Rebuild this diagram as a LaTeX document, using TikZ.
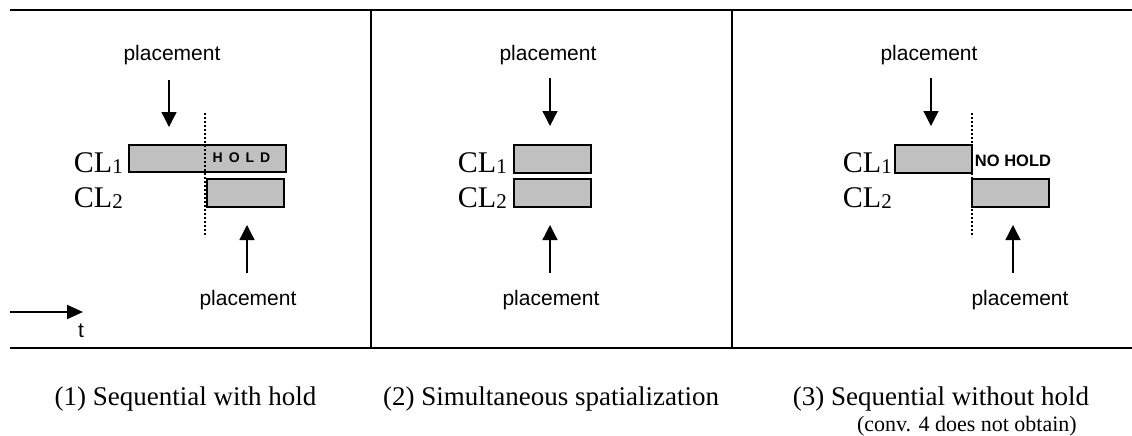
\documentclass[tikz,border=0pt]{standalone}
\usepackage{fontspec}
\setmainfont{Liberation Serif}
\newfontfamily\arialf{Liberation Sans}
\usetikzlibrary{arrows.meta}
\definecolor{barfill}{RGB}{192,192,192}
\newcommand{\clsub}[1]{CL\raisebox{-1.5pt}{\fontsize{21}{21}\selectfont #1}}
\begin{document}
\begin{tikzpicture}[x=1pt,y=-1pt,
  frameh/.style={line width=2pt},
  framev/.style={line width=1.4pt},
  bar/.style={draw, fill=barfill, line width=1.5pt, inner sep=0pt, rectangle},
  parrow/.style={line width=1.3pt, -{Triangle[length=15pt,width=15pt]}},
  tarrow/.style={line width=2pt, -{Triangle[length=16pt,width=14pt]}},
  guide/.style={line width=2pt, dash pattern=on 2pt off 2pt},
  plabel/.style={font=\arialf\fontsize{21}{25}\selectfont, inner sep=0pt, anchor=base},
  cl/.style={font=\fontsize{30}{34}\selectfont, inner sep=0pt, anchor=base east},
  captxt/.style={font=\fontsize{27}{31}\selectfont, inner sep=0pt, anchor=base},
  holdtxt/.style={font=\arialf\bfseries\fontsize{14}{16}\selectfont, inner sep=0pt},
]
\useasboundingbox (0,0) rectangle (1132,436);

% frame
\coordinate (ftl) at (10,10);
\coordinate (ftr) at (1132,10);
\coordinate (fbl) at (10,348);
\coordinate (fbr) at (1132,348);
\coordinate (v1t) at (371,10);
\coordinate (v1b) at (371,348);
\coordinate (v2t) at (732,10);
\coordinate (v2b) at (732,348);
\draw[frameh] (ftl) -- (ftr);
\draw[frameh] (fbl) -- (fbr);
\draw[framev] (v1t) -- (v1b);
\draw[framev] (v2t) -- (v2b);

% ---------- panel 1 ----------
\node[plabel] (p1top) at (172,61) {placement};
\coordinate (d1s) at (169,80);
\coordinate (d1e) at (169,127);
\draw[parrow] (d1s) -- (d1e);
\node[bar, minimum width=157pt, minimum height=27pt] (b11) at (207.5,158.5) {};
\node[bar, minimum width=77pt, minimum height=28pt] (b12) at (245.5,193) {};
\coordinate (g1t) at (205,113);
\coordinate (g1b) at (205,237);
\draw[guide] (g1t) -- (g1b);
\node[holdtxt] (hold) at (241.5,158) {H\kern6pt O\kern6pt L\kern6pt D};
\node[cl] (cl11) at (123,172) {\clsub{1}};
\node[cl] (cl12) at (123,207) {\clsub{2}};
\coordinate (u1s) at (247,273);
\coordinate (u1e) at (247,225);
\draw[parrow] (u1s) -- (u1e);
\node[plabel] (p1bot) at (248,305) {placement};
\coordinate (ts) at (10,312);
\coordinate (te) at (83,312);
\draw[tarrow] (ts) -- (te);
\node[plabel] (tl) at (81,337) {t};

% ---------- panel 2 ----------
\node[plabel] (p2top) at (548,61) {placement};
\coordinate (d2s) at (550,78);
\coordinate (d2e) at (550,126);
\draw[parrow] (d2s) -- (d2e);
\node[bar, minimum width=77pt, minimum height=28pt] (b21) at (552.5,159) {};
\node[bar, minimum width=77pt, minimum height=28pt] (b22) at (552.5,193) {};
\node[cl] (cl21) at (507,172) {\clsub{1}};
\node[cl] (cl22) at (507,207) {\clsub{2}};
\coordinate (u2s) at (550,273);
\coordinate (u2e) at (550,225);
\draw[parrow] (u2s) -- (u2e);
\node[plabel] (p2bot) at (551,305) {placement};

% ---------- panel 3 ----------
\node[plabel] (p3top) at (929,61) {placement};
\coordinate (d3s) at (931,78);
\coordinate (d3e) at (931,126);
\draw[parrow] (d3s) -- (d3e);
\node[bar, minimum width=77pt, minimum height=28pt] (b31) at (933.5,159) {};
\node[bar, minimum width=77pt, minimum height=28pt] (b32) at (1010.5,193) {};
\coordinate (g3t) at (972,113);
\coordinate (g3b) at (972,237);
\draw[guide] (g3t) -- (g3b);
\node[holdtxt, font=\arialf\bfseries\fontsize{16.5}{18}\selectfont] (nohold) at (1013,160.5) {NO HOLD};
\node[cl] (cl31) at (892,172) {\clsub{1}};
\node[cl] (cl32) at (892,207) {\clsub{2}};
\coordinate (u3s) at (1013,273);
\coordinate (u3e) at (1013,225);
\draw[parrow] (u3s) -- (u3e);
\node[plabel] (p3bot) at (1020,305) {placement};

% ---------- captions ----------
\node[captxt] (c1) at (185.5,405) {(1) Sequential with hold};
\node[captxt] (c2) at (551,405) {(2) Simultaneous spatialization};
\node[captxt] (c3) at (941,405) {(3) Sequential without hold};
\node[captxt, anchor=base east, font=\fontsize{22}{26}\selectfont] (c3b) at (1077,431) {(conv. 4 does not obtain)};
\end{tikzpicture}
\end{document}
